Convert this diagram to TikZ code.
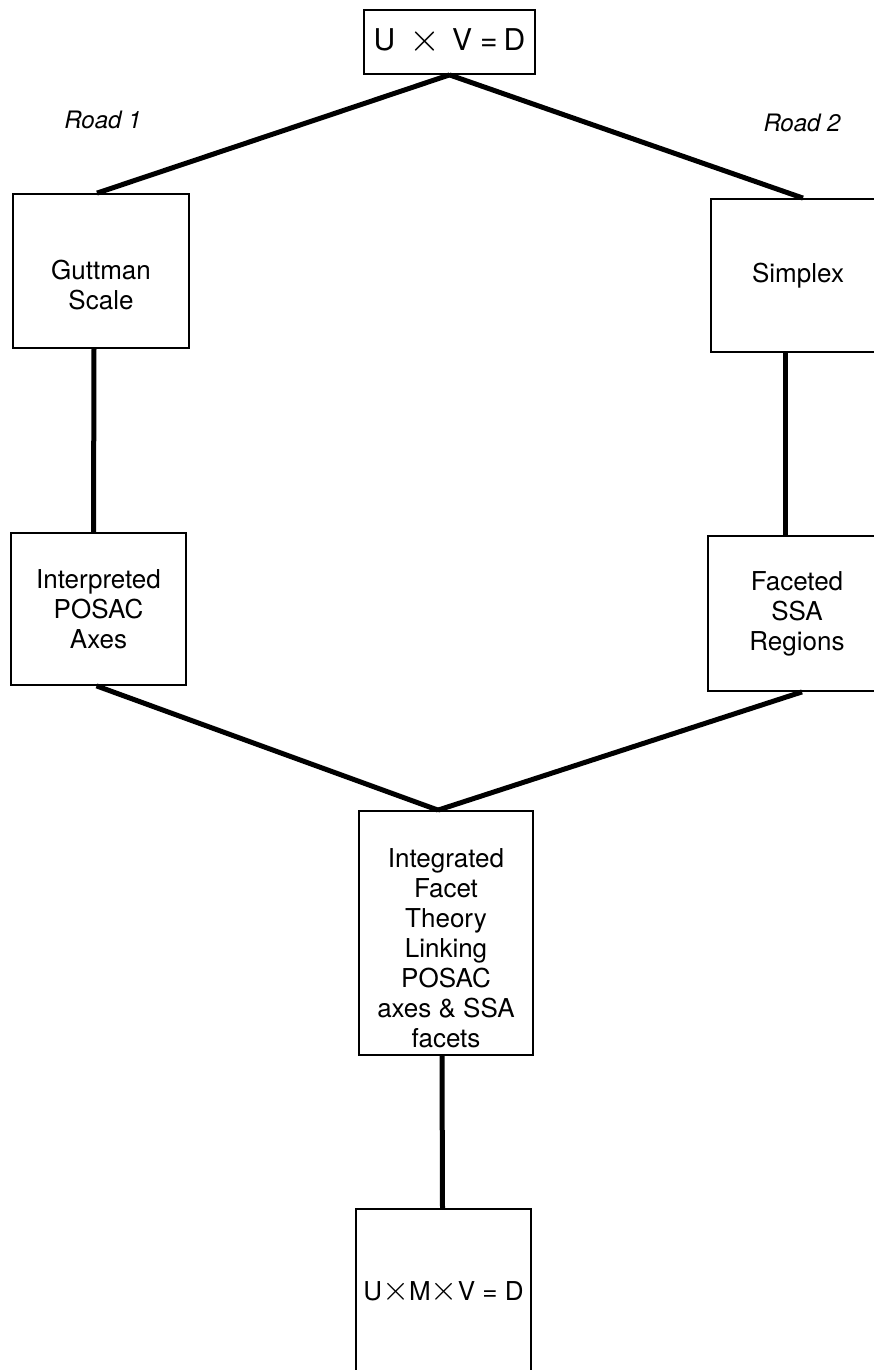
\documentclass[tikz,border=0pt]{standalone}
\usepackage{fontspec}
\usepackage{graphicx}
\setmainfont{TeX Gyre Heros}
\newcommand{\bigtimes}[2]{\raisebox{#2}{\scalebox{#1}{$\times$}}}
\begin{document}
\begin{tikzpicture}[x=1pt,y=-1pt,
  box/.style={draw=black,line width=1.8pt,inner sep=0pt,align=center,
    font=\fontsize{26}{30}\selectfont},
  boxtext/.style={inner sep=0pt,align=center,font=\fontsize{26}{30}\selectfont},
  link/.style={draw=black,line width=5pt},
  road/.style={font=\fontsize{24}{28}\selectfont\itshape,inner sep=0pt}]
\useasboundingbox[fill=white] (0,0) rectangle (874,1370);
\node[box,minimum width=171pt,minimum height=64pt,font=\fontsize{30}{34}\selectfont] (top) at (449.5,42) {U\hspace{14pt}\bigtimes{1.6}{-1pt}\hspace{12pt}V\hspace{8pt}=\hspace{6pt}D};
\node[road] (r1) at (103,120) {Road 1};
\node[road] (r2) at (802,123) {Road 2};
\node[box,minimum width=176pt,minimum height=154pt,
  label={[boxtext,yshift=-14pt]center:Guttman\\Scale}] (gut) at (101,271) {};
\node[box,minimum width=174pt,minimum height=153pt] (simp) at (798,275.5) {Simplex};
\node[box,minimum width=175pt,minimum height=152pt] (int) at (98.5,609) {Interpreted\\POSAC\\Axes};
\node[box,minimum width=178pt,minimum height=155pt] (fac) at (797,613.5) {Faceted\\SSA\\Regions};
\node[box,minimum width=174pt,minimum height=244pt,
  label={[boxtext,yshift=-15pt]center:Integrated\\Facet\\Theory\\Linking\\POSAC\\axes \& SSA\\facets}] (integ) at (446,933) {};
\node[box,minimum width=175pt,minimum height=166pt] (bot) at (443.5,1292) {U\bigtimes{1.4}{0pt}M\bigtimes{1.4}{0pt}V = D};
\draw[link] (top.south) -- ([xshift=-4pt]gut.north);
\draw[link] (top.south) -- ([xshift=5pt]simp.north);
\draw[link] ([xshift=-7pt]gut.south) -- ([xshift=-5pt]int.north);
\draw[link] ([xshift=-13pt]simp.south) -- ([xshift=-12pt]fac.north);
\draw[link] ([xshift=-2pt]int.south) -- ([xshift=-8pt]integ.north);
\draw[link] ([xshift=5pt]fac.south) -- ([xshift=-8pt]integ.north);
\draw[link] ([xshift=-4pt]integ.south) -- ([xshift=-1pt]bot.north);
\end{tikzpicture}
\end{document}
